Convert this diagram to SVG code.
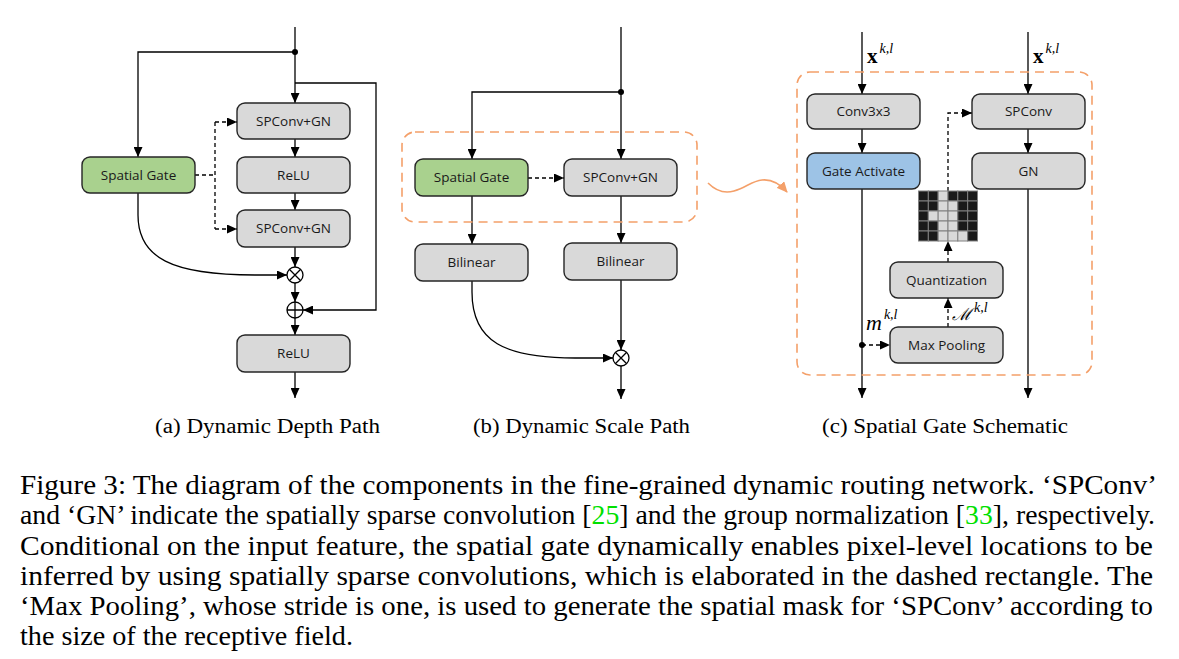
<svg xmlns="http://www.w3.org/2000/svg" width="1179" height="659" viewBox="0 0 1179 659">
<defs>
<marker id="ah" markerWidth="10" markerHeight="9" refX="10" refY="4.5" orient="auto" markerUnits="userSpaceOnUse"><path d="M0,0 L10,4.5 L0,9 z" fill="#000"/></marker>
<marker id="oah" markerWidth="11" markerHeight="10" refX="10" refY="5" orient="auto" markerUnits="userSpaceOnUse"><path d="M0,0 L11,5 L0,10 z" fill="#F4A06A"/></marker>
<style>
.box{fill:#D9D9D9;stroke:#262626;stroke-width:1.4}
.green{fill:#A9D18E}
.blue{fill:#9DC3E6}
.lbl{font-family:"Open Sans","Liberation Sans",sans-serif;font-size:13.5px;fill:#1a1a1a;text-anchor:middle}
.ln{fill:none;stroke:#000;stroke-width:1.3}
.arr{marker-end:url(#ah)}
.dash{stroke-dasharray:4 3}
.orect{fill:none;stroke:#F4A06A;stroke-width:1.6;stroke-dasharray:9 6}
.cap{font-family:"Liberation Serif","Times New Roman",serif;fill:#000}
.op{fill:#fff;stroke:#000;stroke-width:1.3}
.dk{fill:#1a1a1a;stroke:#808080;stroke-width:1}
.lt{fill:#D9D9D9;stroke:#808080;stroke-width:1}
.ref{fill:#00E000}
</style>
</defs>

<g id="connectors">
<!-- panel a -->
<path class="ln arr" d="M295,27 V103"/>
<path class="ln arr" d="M295,52 H138 V157"/>
<path class="ln arr" d="M295,83 H376 V310 H303"/>
<path class="ln arr" d="M295,139 V157"/>
<path class="ln arr" d="M295,193 V210"/>
<path class="ln arr" d="M295,247 V267"/>
<path class="ln arr" d="M295,283 V302"/>
<path class="ln arr" d="M295,318 V335"/>
<path class="ln arr" d="M295,372 V398"/>
<path class="ln arr" d="M138,193 V215 C138,258 172,275 255,275 H287"/>
<path class="ln dash" d="M195,175 H215 M215,122 V229"/>
<path class="ln dash arr" d="M215,122 H237"/>
<path class="ln dash arr" d="M215,229 H237"/>
<circle cx="295" cy="52" r="3"/>
<!-- panel b -->
<path class="ln arr" d="M621,27 V159"/>
<path class="ln arr" d="M621,92 H472 V159"/>
<path class="ln dash arr" d="M528,178 H564"/>
<path class="ln arr" d="M472,196 V244"/>
<path class="ln arr" d="M621,196 V243"/>
<path class="ln arr" d="M621,280 V350"/>
<path class="ln arr" d="M472,281 V292 C472,342 505,358 575,358 H613"/>
<path class="ln arr" d="M621,366 V399"/>
<circle cx="621" cy="92" r="3"/>
<path d="M708,183 C716,191 724,194 734,191 C745,188 752,181 762,180 C772,179 780,184 787,192" fill="none" stroke="#F4A06A" stroke-width="1.6" marker-end="url(#oah)"/>
<!-- panel c -->
<path class="ln arr" d="M862,32 V94"/>
<path class="ln arr" d="M862,129 V153"/>
<path class="ln arr" d="M862,189 V398"/>
<path class="ln arr" d="M1028,32 V94"/>
<path class="ln arr" d="M1028,129 V153"/>
<path class="ln arr" d="M1028,189 V398"/>
<path class="ln dash arr" d="M862,345 H890"/>
<path class="ln dash arr" d="M948,327 V298"/>
<path class="ln dash arr" d="M948,262 V241"/>
<path class="ln dash arr" d="M948,191 V113 H972"/>
<circle cx="862" cy="345" r="3"/>
</g>

<!-- panel a nodes -->
<g id="a-spatial-gate"><rect class="box green" x="82" y="157" width="113" height="36" rx="8"/><text class="lbl" x="138.5" y="180">Spatial Gate</text></g>
<g id="a-spconv1"><rect class="box" x="237" y="103" width="113" height="36" rx="8"/><text class="lbl" x="293.5" y="126">SPConv+GN</text></g>
<g id="a-relu1"><rect class="box" x="237" y="157" width="113" height="36" rx="8"/><text class="lbl" x="293.5" y="180">ReLU</text></g>
<g id="a-spconv2"><rect class="box" x="237" y="210" width="113" height="37" rx="8"/><text class="lbl" x="293.5" y="233">SPConv+GN</text></g>
<g id="a-mul"><circle class="op" cx="295" cy="275" r="8"/><path class="ln" d="M289.3,269.3 L300.7,280.7 M300.7,269.3 L289.3,280.7"/></g>
<g id="a-add"><circle class="op" cx="295" cy="310" r="8"/><path class="ln" d="M287,310 H303 M295,302 V318"/></g>
<g id="a-relu2"><rect class="box" x="237" y="335" width="113" height="37" rx="8"/><text class="lbl" x="293.5" y="358">ReLU</text></g>

<!-- panel b nodes -->
<g id="b-dashed-region"><rect class="orect" x="402" y="132" width="295" height="90" rx="13"/></g>
<g id="b-spatial-gate"><rect class="box green" x="415" y="159" width="113" height="37" rx="8"/><text class="lbl" x="471.5" y="182">Spatial Gate</text></g>
<g id="b-spconv"><rect class="box" x="564" y="159" width="113" height="37" rx="8"/><text class="lbl" x="620.5" y="182">SPConv+GN</text></g>
<g id="b-bilinear1"><rect class="box" x="415" y="244" width="113" height="37" rx="8"/><text class="lbl" x="471.5" y="267">Bilinear</text></g>
<g id="b-bilinear2"><rect class="box" x="564" y="243" width="113" height="37" rx="8"/><text class="lbl" x="620.5" y="266">Bilinear</text></g>
<g id="b-mul"><circle class="op" cx="621" cy="358" r="8"/><path class="ln" d="M615.3,352.3 L626.7,363.7 M626.7,352.3 L615.3,363.7"/></g>

<!-- panel c nodes -->
<g id="c-dashed-region"><rect class="orect" x="797" y="72" width="295" height="303" rx="13"/></g>
<g id="c-conv3x3"><rect class="box" x="807" y="94" width="113" height="35" rx="8"/><text class="lbl" x="863.5" y="116">Conv3x3</text></g>
<g id="c-gate-activate"><rect class="box blue" x="807" y="153" width="113" height="36" rx="8"/><text class="lbl" x="863.5" y="176">Gate Activate</text></g>
<g id="c-spconv"><rect class="box" x="972" y="94" width="113" height="35" rx="8"/><text class="lbl" x="1028.5" y="116">SPConv</text></g>
<g id="c-gn"><rect class="box" x="972" y="153" width="113" height="36" rx="8"/><text class="lbl" x="1028.5" y="176">GN</text></g>
<g id="c-quantization"><rect class="box" x="890" y="262" width="113" height="36" rx="8"/><text class="lbl" x="946.5" y="285">Quantization</text></g>
<g id="c-maxpooling"><rect class="box" x="890" y="327" width="113" height="36" rx="8"/><text class="lbl" x="946.5" y="350">Max Pooling</text></g>
<g id="c-mask">
<rect class="dk" x="918.5" y="191" width="9.83" height="10"/><rect class="dk" x="928.33" y="191" width="9.83" height="10"/><rect class="lt" x="938.17" y="191" width="9.83" height="10"/><rect class="dk" x="948" y="191" width="9.83" height="10"/><rect class="dk" x="957.83" y="191" width="9.83" height="10"/><rect class="dk" x="967.67" y="191" width="9.83" height="10"/>
<rect class="dk" x="918.5" y="201" width="9.83" height="10"/><rect class="dk" x="928.33" y="201" width="9.83" height="10"/><rect class="lt" x="938.17" y="201" width="9.83" height="10"/><rect class="lt" x="948" y="201" width="9.83" height="10"/><rect class="dk" x="957.83" y="201" width="9.83" height="10"/><rect class="dk" x="967.67" y="201" width="9.83" height="10"/>
<rect class="dk" x="918.5" y="211" width="9.83" height="10"/><rect class="lt" x="928.33" y="211" width="9.83" height="10"/><rect class="lt" x="938.17" y="211" width="9.83" height="10"/><rect class="lt" x="948" y="211" width="9.83" height="10"/><rect class="dk" x="957.83" y="211" width="9.83" height="10"/><rect class="dk" x="967.67" y="211" width="9.83" height="10"/>
<rect class="dk" x="918.5" y="221" width="9.83" height="10"/><rect class="dk" x="928.33" y="221" width="9.83" height="10"/><rect class="lt" x="938.17" y="221" width="9.83" height="10"/><rect class="lt" x="948" y="221" width="9.83" height="10"/><rect class="dk" x="957.83" y="221" width="9.83" height="10"/><rect class="dk" x="967.67" y="221" width="9.83" height="10"/>
<rect class="dk" x="918.5" y="231" width="9.83" height="10"/><rect class="dk" x="928.33" y="231" width="9.83" height="10"/><rect class="lt" x="938.17" y="231" width="9.83" height="10"/><rect class="lt" x="948" y="231" width="9.83" height="10"/><rect class="lt" x="957.83" y="231" width="9.83" height="10"/><rect class="dk" x="967.67" y="231" width="9.83" height="10"/>
</g>
<g id="c-labels" class="cap">
<text x="867" y="63" font-size="21" font-weight="bold">x<tspan dx="2" dy="-10" font-size="14" font-weight="normal" font-style="italic">k,l</tspan></text>
<text x="1033" y="63" font-size="21" font-weight="bold">x<tspan dx="2" dy="-10" font-size="14" font-weight="normal" font-style="italic">k,l</tspan></text>
<text x="866" y="330" font-size="22" font-style="italic">m<tspan dx="2" dy="-11" font-size="14">k,l</tspan></text>
<text x="952" y="320" font-size="17" font-style="italic" font-family="'DejaVu Serif',serif">ℳ<tspan dx="2" dy="-8" font-size="14" font-family="'Liberation Serif',serif">k,l</tspan></text>
</g>

<!-- sub captions -->
<g class="cap" font-size="20.5">
<text x="155" y="433" textLength="225" lengthAdjust="spacingAndGlyphs">(a) Dynamic Depth Path</text>
<text x="473" y="433" textLength="217" lengthAdjust="spacingAndGlyphs">(b) Dynamic Scale Path</text>
<text x="822" y="433" textLength="246" lengthAdjust="spacingAndGlyphs">(c) Spatial Gate Schematic</text>
</g>

<!-- caption -->
<g class="cap" font-size="27">
<text x="20" y="494" textLength="1137" lengthAdjust="spacingAndGlyphs">Figure 3: The diagram of the components in the fine-grained dynamic routing network. ‘SPConv’</text>
<text x="20" y="524" textLength="1135" lengthAdjust="spacingAndGlyphs">and ‘GN’ indicate the spatially sparse convolution [<tspan class="ref">25</tspan>] and the group normalization [<tspan class="ref">33</tspan>], respectively.</text>
<text x="20" y="555" textLength="1133" lengthAdjust="spacingAndGlyphs">Conditional on the input feature, the spatial gate dynamically enables pixel-level locations to be</text>
<text x="20" y="585" textLength="1133" lengthAdjust="spacingAndGlyphs">inferred by using spatially sparse convolutions, which is elaborated in the dashed rectangle.  The</text>
<text x="20" y="615" textLength="1133" lengthAdjust="spacingAndGlyphs">‘Max Pooling’, whose stride is one, is used to generate the spatial mask for ‘SPConv’ according to</text>
<text x="20" y="645" textLength="333" lengthAdjust="spacingAndGlyphs">the size of the receptive field.</text>
</g>
</svg>
